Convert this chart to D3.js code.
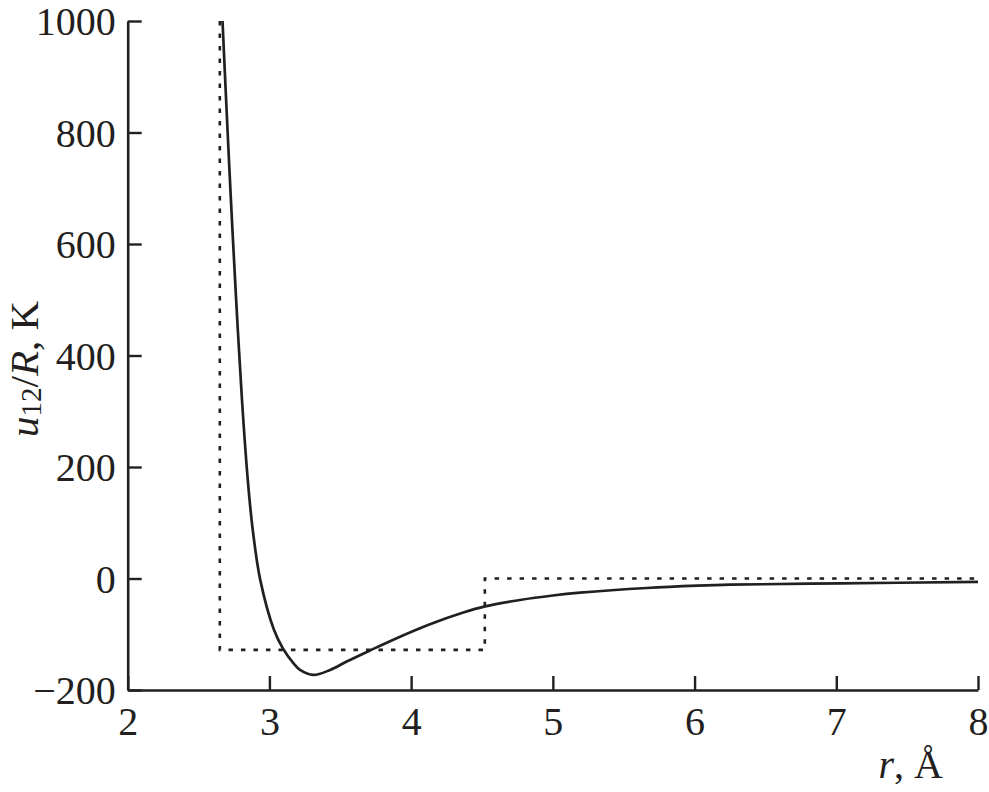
<!DOCTYPE html>
<html>
<head>
<meta charset="utf-8">
<script src="https://cdn.jsdelivr.net/npm/d3@7/dist/d3.min.js"></script>
<style>
  html, body { margin: 0; padding: 0; background: #fff; }
  svg { display: block; }
  text { font-family: "Liberation Serif", "DejaVu Serif", serif; fill: #231f20; }
</style>
</head>
<body>
<svg id="chart" width="989" height="792"></svg>
<script>
// Solid curve: interaction potential u12/R (K) vs r (Å)
const curveR = [2.669, 2.694, 2.728, 2.765, 2.806, 2.847, 2.882, 2.935, 3.032, 3.094, 3.169, 3.216, 3.31, 3.428, 3.545, 3.71, 3.898, 4.133, 4.368, 4.522, 4.768, 5.0, 5.192, 5.663, 6.02, 6.25, 7.03, 8.0];
const curveU = [1000, 861, 681, 501, 322, 178, 88, -2, -92, -125, -152, -164, -173, -164, -149, -129, -107, -82, -61, -50, -38.5, -30.5, -25.5, -17, -12.8, -11, -8.8, -6];

// Dotted line: square-well potential
const wellR = [2.65, 2.65, 4.52, 4.52, 8.0];
const wellU = [1000, -128, -128, 0, 0];

// Axis ticks
const xTicks = [2, 3, 4, 5, 6, 7, 8];
const yTicks = [-200, 0, 200, 400, 600, 800, 1000];

const svg = d3.select("#chart");
const mLeft = 127.7, mRight = 978, mTop = 21, mBottom = 690;
const x = d3.scaleLinear().domain([2, 8]).range([mLeft, mRight]);
const y = d3.scaleLinear().domain([-200, 1000]).range([mBottom, mTop]);
const ink = "#231f20";

// X axis
const gx = svg.append("g").attr("transform", `translate(0,${mBottom})`)
  .call(d3.axisBottom(x).tickValues(xTicks).tickFormat(d3.format("d"))
    .tickSizeInner(-14).tickSizeOuter(0));
gx.select(".domain").attr("stroke", ink).attr("stroke-width", 2.6);
gx.selectAll(".tick line").attr("stroke", ink).attr("stroke-width", 2.4);
gx.selectAll(".tick text").attr("y", 45).attr("dy", 0)
  .style("font-size", "40px").attr("fill", ink);

// Y axis
const gy = svg.append("g").attr("transform", `translate(${mLeft},0)`)
  .call(d3.axisLeft(y).tickValues(yTicks)
    .tickFormat(d => d < 0 ? "\u2212" + Math.abs(d) : String(d))
    .tickSizeInner(-14).tickSizeOuter(0).tickPadding(12));
gy.select(".domain").attr("stroke", ink).attr("stroke-width", 2.6);
gy.selectAll(".tick line").attr("stroke", ink).attr("stroke-width", 2.4);
gy.selectAll(".tick text").attr("dy", "0.34em")
  .style("font-size", "40px").attr("fill", ink);

// Dotted square well
const wellData = wellR.map((r, i) => [r, wellU[i]]);
svg.append("path")
  .datum(wellData)
  .attr("fill", "none")
  .attr("stroke", ink)
  .attr("stroke-width", 2.6)
  .attr("stroke-dasharray", "4.5 8")
  .attr("d", d3.line().x(d => x(d[0])).y(d => y(d[1])));

// Solid curve
const curveData = curveR.map((r, i) => [r, curveU[i]]);
svg.append("path")
  .datum(curveData)
  .attr("fill", "none")
  .attr("stroke", ink)
  .attr("stroke-width", 2.7)
  .attr("stroke-linejoin", "round")
  .attr("d", d3.line().curve(d3.curveCatmullRom.alpha(0.5)).x(d => x(d[0])).y(d => y(d[1])));

// X axis label
const xl = svg.append("text")
  .attr("x", 943).attr("y", 778)
  .attr("text-anchor", "end")
  .style("font-size", "40px");
xl.append("tspan").style("font-style", "italic").text("r");
xl.append("tspan").text(", \u00C5");

// Y axis label
const yl = svg.append("text")
  .attr("transform", "translate(38,437) rotate(-90)")
  .attr("text-anchor", "start")
  .style("font-size", "41px");
yl.append("tspan").style("font-style", "italic").text("u");
yl.append("tspan").style("font-size", "29px").attr("dy", 3).text("12");
yl.append("tspan").attr("dy", -3).text("/");
yl.append("tspan").style("font-style", "italic").text("R");
yl.append("tspan").text(", K");
</script>
</body>
</html>
